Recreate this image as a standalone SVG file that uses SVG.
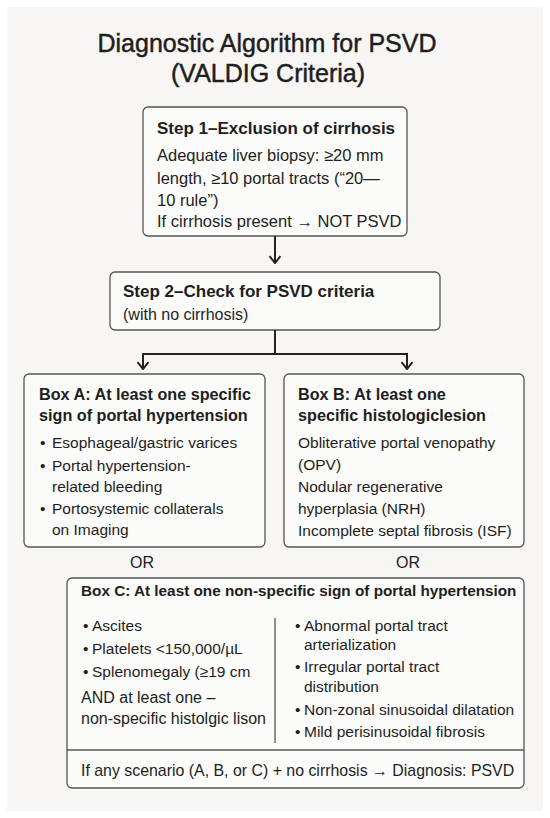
<svg xmlns="http://www.w3.org/2000/svg" width="550" height="818" viewBox="0 0 550 818">
<defs>
<style>
text{font-family:"Liberation Sans",Arial,sans-serif;fill:#1e1e1e}
.title{font-size:25px;stroke:#1e1e1e;stroke-width:0.45px;text-anchor:middle}
.h{font-weight:bold}
.box{fill:#fbfbfa;stroke:#555;stroke-width:1.3}
.conn{fill:none;stroke:#222;stroke-width:2}
.b{font-size:15.5px}
</style>
<marker id="chev" viewBox="0 0 12 12" refX="11" refY="6" markerWidth="12" markerHeight="12" markerUnits="userSpaceOnUse" orient="auto">
<path d="M4,0.5 L11,6 L4,11.5" fill="none" stroke="#222" stroke-width="2"/>
</marker>
</defs>
<rect x="0" y="0" width="550" height="818" fill="#ffffff"/>
<rect x="7" y="7" width="536" height="804" fill="#f7f6f4"/>

<g id="title">
<text class="title" x="267" y="52">Diagnostic Algorithm for PSVD</text>
<text class="title" x="268" y="82">(VALDIG Criteria)</text>
</g>

<g id="step1">
<rect class="box" x="143" y="107" width="264" height="129" rx="5"/>
<text class="h" x="157" y="134" font-size="17">Step 1–Exclusion of cirrhosis</text>
<text x="157" y="161" font-size="16.5">Adequate liver biopsy: ≥20 mm</text>
<text x="157" y="184" font-size="16.5">length, ≥10 portal tracts (“20—</text>
<text x="157" y="206" font-size="16.5">10 rule”)</text>
<text x="157" y="227" font-size="16.5">If cirrhosis present → NOT PSVD</text>
</g>

<g id="step2">
<rect class="box" x="110" y="272" width="330" height="58" rx="5"/>
<text class="h" x="123" y="297" font-size="17">Step 2–Check for PSVD criteria</text>
<text x="123" y="320" font-size="16">(with no cirrhosis)</text>
</g>

<g id="boxA">
<rect class="box" x="24" y="374" width="241" height="173" rx="5"/>
<text class="h" x="39" y="400" font-size="16.2">Box A: At least one specific</text>
<text class="h" x="39" y="421" font-size="16.2">sign of portal hypertension</text>
<text class="b" x="40" y="448">•</text><text class="b" x="52" y="448">Esophageal/gastric varices</text>
<text class="b" x="40" y="471">•</text><text class="b" x="52" y="471">Portal hypertension-</text>
<text class="b" x="52" y="492">related bleeding</text>
<text class="b" x="40" y="514">•</text><text class="b" x="52" y="514">Portosystemic collaterals</text>
<text class="b" x="52" y="535">on Imaging</text>
</g>

<g id="boxB">
<rect class="box" x="284" y="374" width="240" height="173" rx="5"/>
<text class="h" x="298" y="400" font-size="16.2">Box B: At least one</text>
<text class="h" x="298" y="421" font-size="16.2">specific histologiclesion</text>
<text class="b" x="298" y="448">Obliterative portal venopathy</text>
<text class="b" x="298" y="470">(OPV)</text>
<text class="b" x="298" y="492">Nodular regenerative</text>
<text class="b" x="298" y="514">hyperplasia (NRH)</text>
<text class="b" x="298" y="536">Incomplete septal fibrosis (ISF)</text>
</g>

<g id="or-labels">
<text x="142" y="568" font-size="16" text-anchor="middle">OR</text>
<text x="408" y="568" font-size="16" text-anchor="middle">OR</text>
</g>

<g id="boxC">
<rect class="box" x="67" y="578" width="457" height="210" rx="5"/>
<line x1="67" y1="750" x2="524" y2="750" stroke="#555" stroke-width="1.3"/>
<line x1="275" y1="618" x2="275" y2="743" stroke="#555" stroke-width="1.3"/>
<text class="h" x="81" y="596" font-size="15.3">Box C: At least one non-specific sign of portal hypertension</text>
<text class="b" x="83" y="631">•</text><text class="b" x="92" y="631">Ascites</text>
<text class="b" x="83" y="654">•</text><text class="b" x="92" y="654">Platelets &lt;150,000/µL</text>
<text class="b" x="83" y="677">•</text><text class="b" x="92" y="677">Splenomegaly (≥19 cm</text>
<text x="81" y="703" font-size="16">AND at least one –</text>
<text x="81" y="724" font-size="16">non-specific histolgic lison</text>
<text class="b" x="295" y="631">•</text><text class="b" x="304" y="631">Abnormal portal tract</text>
<text class="b" x="304" y="650">arterialization</text>
<text class="b" x="295" y="672">•</text><text class="b" x="304" y="672">Irregular portal tract</text>
<text class="b" x="304" y="692">distribution</text>
<text class="b" x="295" y="715">•</text><text class="b" x="304" y="715">Non-zonal sinusoidal dilatation</text>
<text class="b" x="295" y="737">•</text><text class="b" x="304" y="737">Mild perisinusoidal fibrosis</text>
<text x="81" y="776" font-size="15.9">If any scenario (A, B, or C) + no cirrhosis → Diagnosis: PSVD</text>
</g>

<g id="connectors">
<line class="conn" x1="275" y1="236" x2="275" y2="263" marker-end="url(#chev)"/>
<polyline class="conn" points="275,330 275,354"/>
<polyline class="conn" points="143,369 143,354 407,354 407,369" marker-end="url(#chev)"/>
<line class="conn" x1="143" y1="354" x2="143" y2="369" marker-end="url(#chev)"/>
</g>
</svg>
